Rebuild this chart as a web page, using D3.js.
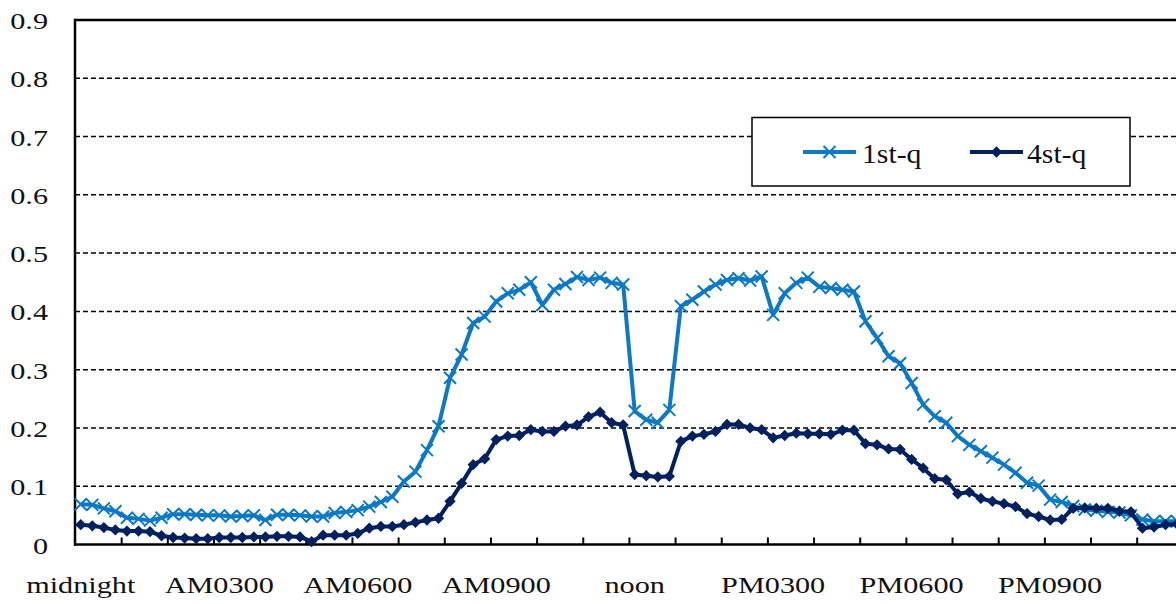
<!DOCTYPE html>
<html>
<head>
<meta charset="utf-8">
<script src="https://cdn.jsdelivr.net/npm/d3@7"></script>
<style>
  html, body { margin: 0; padding: 0; background: #fff; }
  svg { display: block; }
  text { font-family: "Liberation Serif", "Times New Roman", serif; fill: #111; }
</style>
</head>
<body>
<svg id="chart" width="1176" height="604"></svg>
<script>
// 15-minute slots over one day
const slots = d3.range(96);
const hourLabels = ["midnight", "AM0300", "AM0600", "AM0900", "noon", "PM0300", "PM0600", "PM0900"];
const yTicks = [0, 0.1, 0.2, 0.3, 0.4, 0.5, 0.6, 0.7, 0.8, 0.9];
const seriesNames = ["1st-q", "4st-q"];

const q1 = [
  0.069,0.068,0.062,0.057,0.046,0.044,0.041,0.046,0.052,0.052,0.051,0.050,0.050,0.048,0.049,0.050,
  0.042,0.051,0.051,0.050,0.048,0.048,0.054,0.056,0.059,0.065,0.073,0.082,0.108,0.125,0.162,0.203,
  0.286,0.326,0.380,0.391,0.417,0.431,0.437,0.450,0.411,0.437,0.447,0.459,0.454,0.458,0.449,0.446,
  0.229,0.214,0.209,0.231,0.409,0.420,0.434,0.446,0.454,0.457,0.453,0.460,0.394,0.431,0.449,0.458,
  0.442,0.440,0.437,0.434,0.383,0.354,0.323,0.311,0.277,0.240,0.220,0.209,0.186,0.171,0.160,0.149,
  0.137,0.123,0.106,0.101,0.077,0.073,0.066,0.060,0.058,0.056,0.055,0.050,0.043,0.040,0.040,0.040
];
const q4 = [
  0.034,0.032,0.029,0.025,0.023,0.023,0.022,0.015,0.012,0.011,0.010,0.010,0.012,0.012,0.012,0.013,
  0.013,0.014,0.014,0.013,0.005,0.016,0.016,0.016,0.019,0.028,0.031,0.031,0.034,0.038,0.042,0.045,
  0.074,0.105,0.137,0.147,0.180,0.186,0.187,0.197,0.194,0.194,0.203,0.205,0.219,0.227,0.209,0.205,
  0.120,0.118,0.116,0.117,0.177,0.186,0.189,0.194,0.206,0.206,0.200,0.197,0.183,0.187,0.191,0.190,
  0.190,0.189,0.196,0.196,0.173,0.171,0.164,0.163,0.146,0.131,0.113,0.111,0.087,0.090,0.079,0.074,
  0.070,0.065,0.053,0.048,0.042,0.043,0.062,0.063,0.062,0.062,0.057,0.056,0.028,0.030,0.034,0.035
];

const colors = ["#0b79c6", "#00205f"];
const textStretch = 1.26;   // wide serif lettering

(function draw() {
  const svg = d3.select("#chart");
  svg.append("rect").attr("width", 1176).attr("height", 604).attr("fill", "#fff");

  const plotLeft = 75, plotTop = 20, plotBottom = 544.5, plotRight = 1176;
  const slotW = 11.54;
  const x = d3.scaleBand().domain(slots).range([plotLeft, plotLeft + slots.length * slotW]).padding(0);
  const hours = d3.scaleLinear().domain([0, 24]).range(x.range());
  const y = d3.scaleLinear().domain([0, 0.9]).range([plotBottom, plotTop]);

  // dashed gridlines
  svg.append("g").selectAll("line")
    .data(yTicks.filter(t => t > 0 && t < 0.9))
    .join("line")
    .attr("x1", plotLeft).attr("x2", plotRight)
    .attr("y1", d => y(d)).attr("y2", d => y(d))
    .attr("stroke", "#000").attr("stroke-width", 1.5)
    .attr("stroke-dasharray", "5,3");

  // top border of the plot area
  svg.append("line").attr("x1", plotLeft).attr("x2", plotRight).attr("y1", y(0.9)).attr("y2", y(0.9))
    .attr("stroke", "#000").attr("stroke-width", 2.5);

  // bottom axis with inward hour ticks
  const xAxis = d3.axisBottom(hours).tickValues(d3.range(1, 24)).tickSize(-7).tickFormat("");
  const gx = svg.append("g").attr("transform", `translate(0,${plotBottom})`).call(xAxis);
  gx.select(".domain").remove();
  gx.selectAll(".tick line").attr("stroke", "#000").attr("stroke-width", 2);
  svg.append("line").attr("x1", plotLeft - 1).attr("x2", plotRight).attr("y1", plotBottom).attr("y2", plotBottom)
    .attr("stroke", "#000").attr("stroke-width", 2.5);
  svg.append("line").attr("x1", plotLeft).attr("x2", plotLeft).attr("y1", plotTop - 1.2).attr("y2", plotBottom + 1.2)
    .attr("stroke", "#000").attr("stroke-width", 2.5);

  // y tick labels
  svg.append("g").selectAll("text")
    .data(yTicks)
    .join("text")
    .attr("text-anchor", "end")
    .attr("font-size", 24)
    .attr("transform", d => `translate(48,${y(d) + 9}) scale(${textStretch},1)`)
    .text(d => d === 0 ? "0" : d.toFixed(1));

  // x labels every 3 hours, centred on the first slot of each block
  svg.append("g").selectAll("text")
    .data(hourLabels)
    .join("text")
    .attr("text-anchor", "middle")
    .attr("font-size", 24)
    .attr("transform", (d, i) => `translate(${x(i * 12) + x.bandwidth() / 2},593) scale(${textStretch},1)`)
    .text(d => d);

  const cx = i => x(i) + x.bandwidth() / 2;
  const line = d3.line().x((d, i) => cx(i)).y(d => y(d));

  const crossPath = "M-6,-6L6,6M-6,6L6,-6";
  const diamond = d3.symbol().type(d3.symbolSquare).size(64)();

  // 1st-q: light blue with cross markers
  svg.append("path").datum(q1).attr("d", line)
    .attr("fill", "none").attr("stroke", colors[0]).attr("stroke-width", 4)
    .attr("stroke-linejoin", "round");
  svg.append("g").selectAll("path")
    .data(q1).join("path")
    .attr("d", crossPath)
    .attr("transform", (d, i) => `translate(${cx(i)},${y(d)})`)
    .attr("stroke", colors[0]).attr("stroke-width", 2).attr("fill", "none");

  // 4st-q: navy with diamond markers
  svg.append("path").datum(q4).attr("d", line)
    .attr("fill", "none").attr("stroke", colors[1]).attr("stroke-width", 4)
    .attr("stroke-linejoin", "round");
  svg.append("g").selectAll("path")
    .data(q4).join("path")
    .attr("d", diamond)
    .attr("transform", (d, i) => `translate(${cx(i)},${y(d)}) rotate(45)`)
    .attr("fill", colors[1]);

  // legend
  const lg = svg.append("g");
  lg.append("rect").attr("x", 752).attr("y", 117.5).attr("width", 378).attr("height", 68.5)
    .attr("fill", "#fff").attr("stroke", "#000").attr("stroke-width", 1.5);
  const entries = [{ x: 803, tx: 862 }, { x: 970, tx: 1027 }];
  entries.forEach((e, k) => {
    lg.append("line").attr("x1", e.x).attr("x2", e.x + 53).attr("y1", 152).attr("y2", 152)
      .attr("stroke", colors[k]).attr("stroke-width", 4);
    if (k === 0) {
      lg.append("path").attr("d", crossPath).attr("transform", `translate(${e.x + 26.5},152)`)
        .attr("stroke", colors[k]).attr("stroke-width", 2).attr("fill", "none");
    } else {
      lg.append("path").attr("d", diamond).attr("transform", `translate(${e.x + 26.5},152) rotate(45)`)
        .attr("fill", colors[k]);
    }
    lg.append("text").attr("font-size", 27)
      .attr("transform", `translate(${e.tx},163) scale(1.1,1)`)
      .text(seriesNames[k]);
  });
})();
</script>
</body>
</html>
